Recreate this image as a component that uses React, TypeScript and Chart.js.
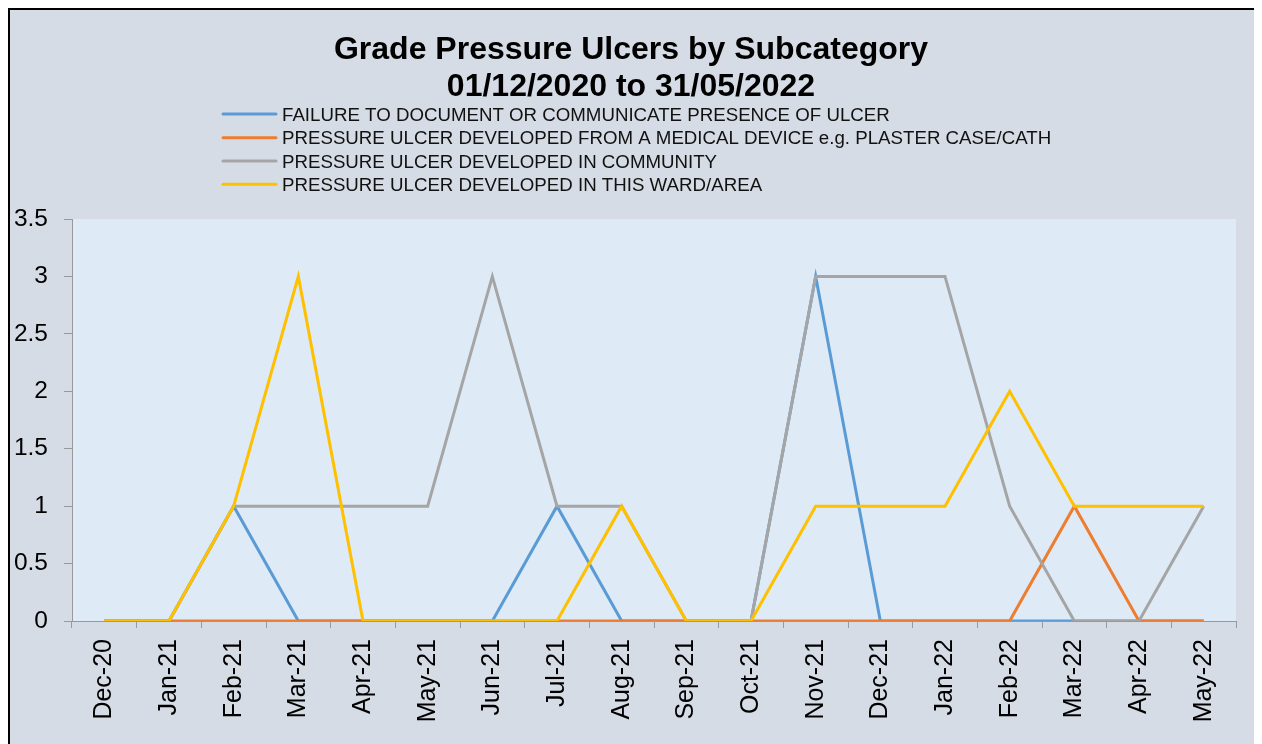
import React, { useEffect, useRef } from "react";
import { Chart, registerables } from "chart.js";

Chart.register(...registerables);

const months = [
  "Dec-20", "Jan-21", "Feb-21", "Mar-21", "Apr-21", "May-21", "Jun-21", "Jul-21", "Aug-21",
  "Sep-21", "Oct-21", "Nov-21", "Dec-21", "Jan-22", "Feb-22", "Mar-22", "Apr-22", "May-22",
];

const seriesNames = [
  "FAILURE TO DOCUMENT OR COMMUNICATE PRESENCE OF ULCER",
  "PRESSURE ULCER DEVELOPED FROM A MEDICAL DEVICE e.g. PLASTER CASE/CATH",
  "PRESSURE ULCER DEVELOPED IN COMMUNITY",
  "PRESSURE ULCER DEVELOPED IN THIS WARD/AREA",
];

const failureToDocument = [0, 0, 1, 0, 0, 0, 0, 1, 0, 0, 0, 3, 0, 0, 0, 0, 0, 0];
const medicalDevice = [0, 0, 0, 0, 0, 0, 0, 0, 0, 0, 0, 0, 0, 0, 0, 1, 0, 0];
const community = [0, 0, 1, 1, 1, 1, 3, 1, 1, 0, 0, 3, 3, 3, 1, 0, 0, 1];
const thisWard = [0, 0, 1, 3, 0, 0, 0, 0, 1, 0, 0, 1, 1, 1, 2, 1, 1, 1];

const titleLines = ["Grade Pressure Ulcers by Subcategory", "01/12/2020 to 31/05/2022"];

const colors = ["#5b9bd5", "#ed7d31", "#a5a5a5", "#ffc000"];
const FONT = "'Liberation Sans', Arial, sans-serif";

export default function App() {
  const ref = useRef<HTMLCanvasElement | null>(null);

  useEffect(() => {
    document.documentElement.style.overflow = "hidden";
    const canvas = ref.current;
    if (!canvas) return;

    const decorPlugin = {
      id: "decor",
      beforeDraw(chart: any) {
        const { ctx, chartArea } = chart;
        ctx.save();
        ctx.fillStyle = "#deebf7";
        ctx.fillRect(chartArea.left, chartArea.top, chartArea.right - chartArea.left, chartArea.bottom - chartArea.top);
        ctx.restore();
      },
      afterDraw(chart: any) {
        const { ctx } = chart;
        ctx.save();
        // title
        ctx.fillStyle = "#000";
        ctx.textAlign = "center";
        ctx.textBaseline = "alphabetic";
        ctx.font = `bold 32px ${FONT}`;
        ctx.fillText(titleLines[0], 621, 49);
        ctx.fillText(titleLines[1], 621, 86);
        // legend
        const rows = [104, 127.7, 151, 174.3];
        ctx.font = `18.7px ${FONT}`;
        ctx.textAlign = "left";
        chart.data.datasets.forEach((ds: any, i: number) => {
          const y = rows[i];
          ctx.strokeStyle = ds.borderColor;
          ctx.lineWidth = 3;
          ctx.lineCap = "round";
          ctx.beginPath();
          ctx.moveTo(213, y);
          ctx.lineTo(266, y);
          ctx.stroke();
          ctx.fillStyle = "#111";
          ctx.fillText(ds.label, 272, y + 6.6);
        });
        ctx.restore();
      },
    };

    const data = [failureToDocument, medicalDevice, community, thisWard];
    const chart = new Chart(canvas, {
      type: "line",
      data: {
        labels: months,
        datasets: data.map((d, i) => ({
          label: seriesNames[i],
          data: d,
          borderColor: colors[i],
          backgroundColor: colors[i],
          borderWidth: 3,
          pointRadius: 0,
          pointHoverRadius: 0,
          tension: 0,
          fill: false,
          order: 3 - i,
        })),
      },
      options: {
        responsive: false,
        devicePixelRatio: 1,
        animation: false,
        layout: { padding: { top: 209, right: 18, left: 0, bottom: 0 } },
        plugins: {
          legend: { display: false },
          title: { display: false },
          tooltip: { enabled: false },
        },
        scales: {
          x: {
            offset: true,
            grid: {
              display: true,
              offset: true,
              drawOnChartArea: false,
              drawTicks: true,
              tickLength: 7,
              color: "#999999",
            },
            border: { display: true, color: "#999999", width: 1 },
            ticks: {
              autoSkip: false,
              maxRotation: 90,
              minRotation: 90,
              padding: 11,
              color: "#000",
              font: { family: FONT, size: 25 },
            },
            afterFit: (s: any) => {
              s.height = 129;
            },
          },
          y: {
            min: 0,
            max: 3.5,
            ticks: {
              stepSize: 0.5,
              padding: 16,
              color: "#000",
              font: { family: FONT, size: 24.5 },
              callback: (v: any) => String(Number(v)),
            },
            grid: {
              display: true,
              drawOnChartArea: false,
              drawTicks: true,
              tickLength: 8,
              color: "#999999",
            },
            border: { display: true, color: "#999999", width: 1 },
            afterFit: (s: any) => {
              s.width = 62;
            },
          },
        },
      },
      plugins: [decorPlugin],
    });

    return () => chart.destroy();
  }, []);

  return (
    <div
      style={{
        width: 1244,
        height: 740,
        border: "2px solid #000",
        borderBottom: "none",
        background: "#d6dce5",
      }}
    >
      <canvas ref={ref} width={1244} height={740} style={{ width: 1244, height: 740, display: "block" }} />
    </div>
  );
}
